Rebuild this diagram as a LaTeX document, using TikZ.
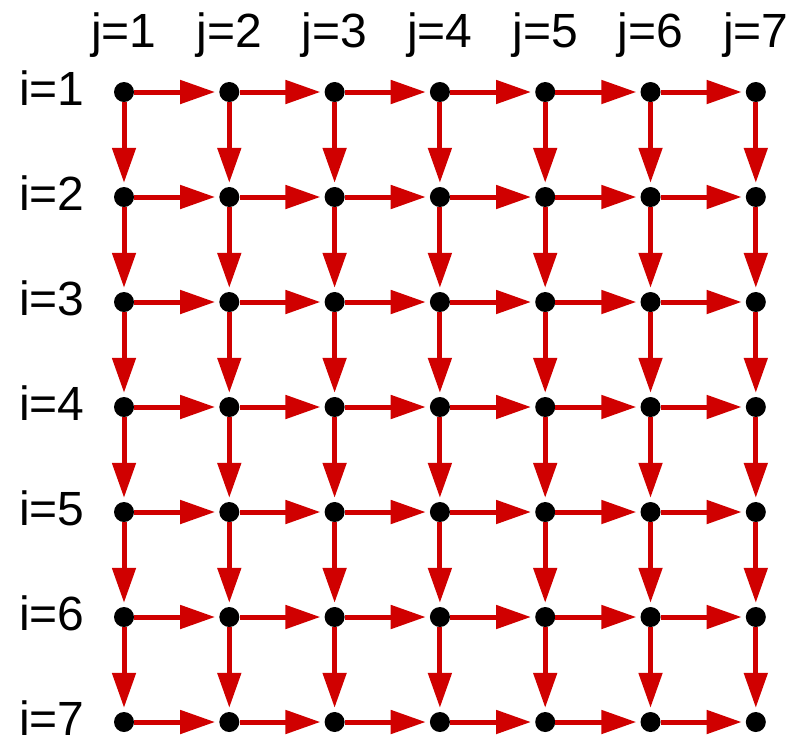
\documentclass[tikz,border=0pt]{standalone}
\usepackage{fontspec}
\setmainfont{Liberation Sans}
\usetikzlibrary{arrows.meta}
\definecolor{arrred}{RGB}{208,0,0}
\begin{document}
\begin{tikzpicture}[x=1pt,y=-1pt,
  dot/.style={circle,fill=black,minimum size=20pt,inner sep=0pt},
  lab/.style={font=\fontsize{48}{56}\selectfont,inner sep=0pt},
  arr/.style={draw=arrred,line width=5pt,shorten >=4pt,
    -{Triangle[length=35pt,width=23pt]},fill=arrred}]
\useasboundingbox (0,0) rectangle (791,740);
\foreach \i in {1,...,7}{
  \foreach \j in {1,...,7}{
    \node[dot] (n\i\j) at ({124+(\j-1)*105.3},{92+(\i-1)*105}) {};
  }
}
\foreach \j in {1,...,7}{
  \node[lab,anchor=base] (cj\j) at ({124+(\j-1)*105.3},47) {j=\j};
}
\foreach \i in {1,...,7}{
  \node[lab,text depth=0pt,anchor=base west] (ri\i) at (19,{105+(\i-1)*105}) {i=\i};
}
\foreach \i in {1,...,7}{
  \foreach \j [evaluate=\j as \k using int(\j+1)] in {1,...,6}{
    \draw[arr] (n\i\j) -- (n\i\k);
  }
}
\foreach \i [evaluate=\i as \k using int(\i+1)] in {1,...,6}{
  \foreach \j in {1,...,7}{
    \draw[arr] (n\i\j) -- (n\k\j);
  }
}
\end{tikzpicture}
\end{document}
